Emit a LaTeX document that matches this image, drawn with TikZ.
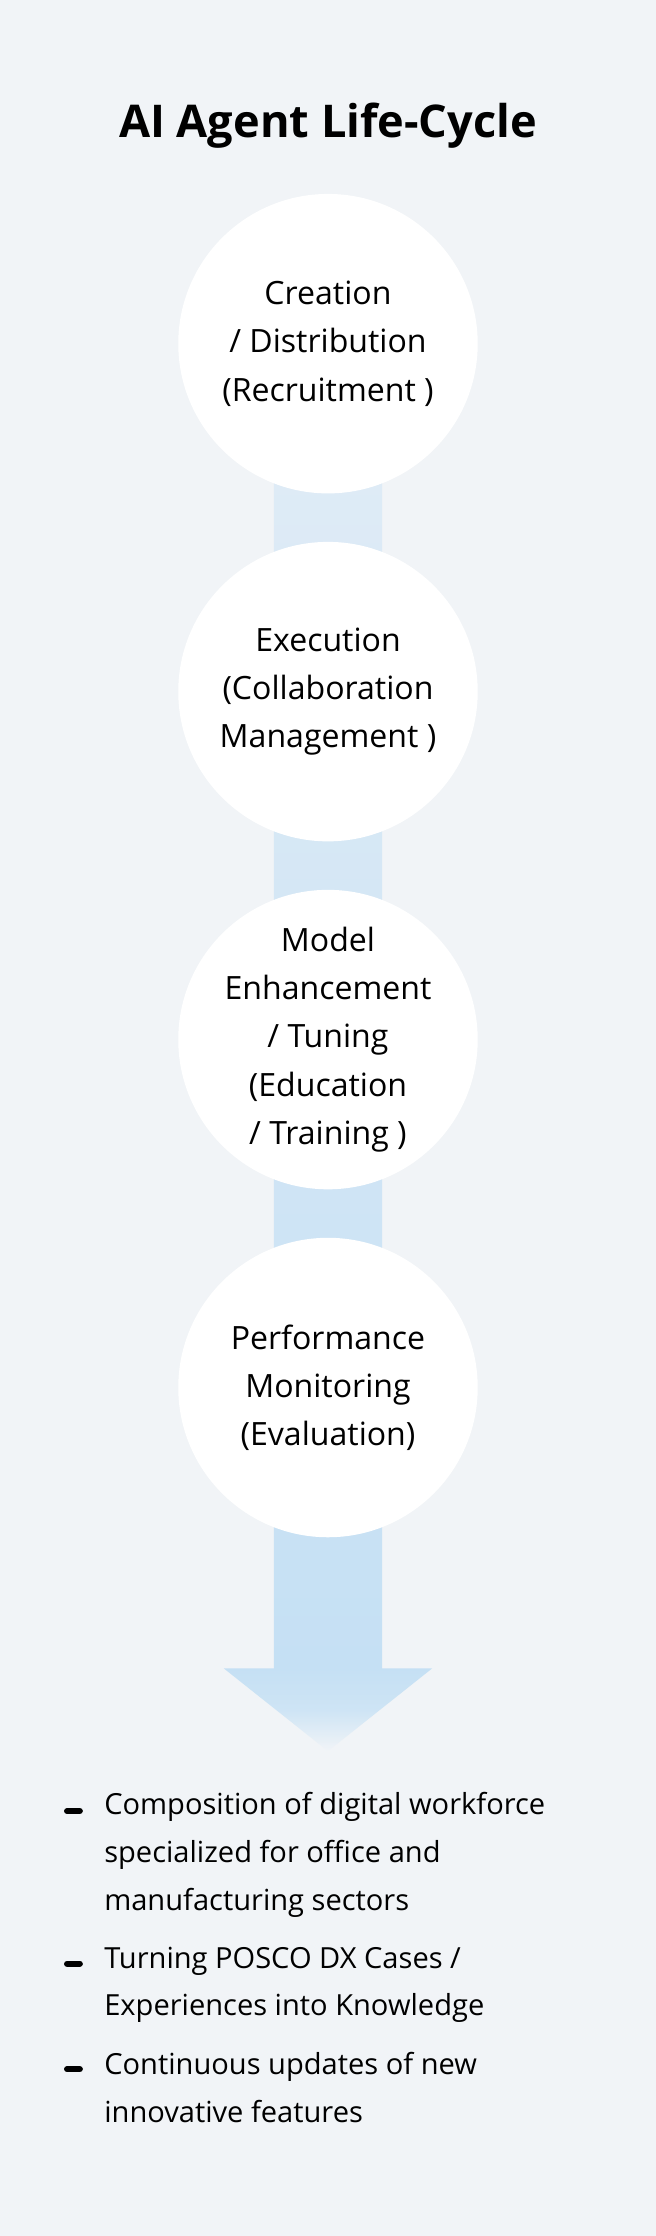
\documentclass[tikz,border=0pt]{standalone}
\usepackage{fontspec}
\setmainfont{Open Sans}
\definecolor{bg}{HTML}{F1F4F7}
\definecolor{barA}{HTML}{DEEBF6}
\definecolor{barB}{HTML}{C5E0F4}
\begin{document}
\begin{tikzpicture}[x=0.05cm,y=-0.05cm,
  stage/.style={circle,fill=white,minimum size=210*0.05cm,inner sep=0pt},
  stxt/.style={align=center,inner sep=0pt,font=\fontsize{32pt}{48pt}\selectfont},
  bul/.style={anchor=north west,inner sep=0pt,align=left,font=\fontsize{29pt}{47.5pt}\selectfont},
  bdash/.style={line width=6pt,line cap=round,black}]
\fill[bg] (0,0) rectangle (460,1568);
\useasboundingbox (0,0) rectangle (460,1568);
\node[font=\bfseries\fontsize{45pt}{50pt}\selectfont] (title) at (230,88) {AI Agent Life-Cycle};
\shade[top color=barA,bottom color=barB] (192,330) rectangle (268,1171);
\shade[top color=barB,bottom color=bg,middle color=barB!80!bg] (157,1170) -- (303,1170) -- (230,1228) -- cycle;
\node[stage] (s1) at (230,241) {};
\node[stage] (s2) at (230,485) {};
\node[stage] (s3) at (230,729) {};
\node[stage] (s4) at (230,973) {};
\node[stxt] (t1) at (s1) {Creation\\/ Distribution\\(Recruitment )};
\node[stxt] (t2) at (s2) {Execution\\(Collaboration\\Management )};
\node[stxt] (t3) at (s3) {Model\\Enhancement\\/ Tuning\\(Education\\/ Training )};
\node[stxt] (t4) at (s4) {Performance\\Monitoring\\(Evaluation)};
\coordinate (d1a) at (47,1270); \coordinate (d1b) at (56,1270);
\coordinate (d2a) at (47,1377); \coordinate (d2b) at (56,1377);
\coordinate (d3a) at (47,1451); \coordinate (d3b) at (56,1451);
\draw[bdash] (d1a) -- (d1b);
\draw[bdash] (d2a) -- (d2b);
\draw[bdash] (d3a) -- (d3b);
\node[bul] (b1) at (73,1257) {Composition of digital workforce\\specialized for office and\\manufacturing sectors};
\node[bul] (b2) at (73,1365) {Turning POSCO DX Cases /\\Experiences into Knowledge};
\node[bul] (b3) at (73,1439) {Continuous updates of new\\innovative features};
\end{tikzpicture}
\end{document}
